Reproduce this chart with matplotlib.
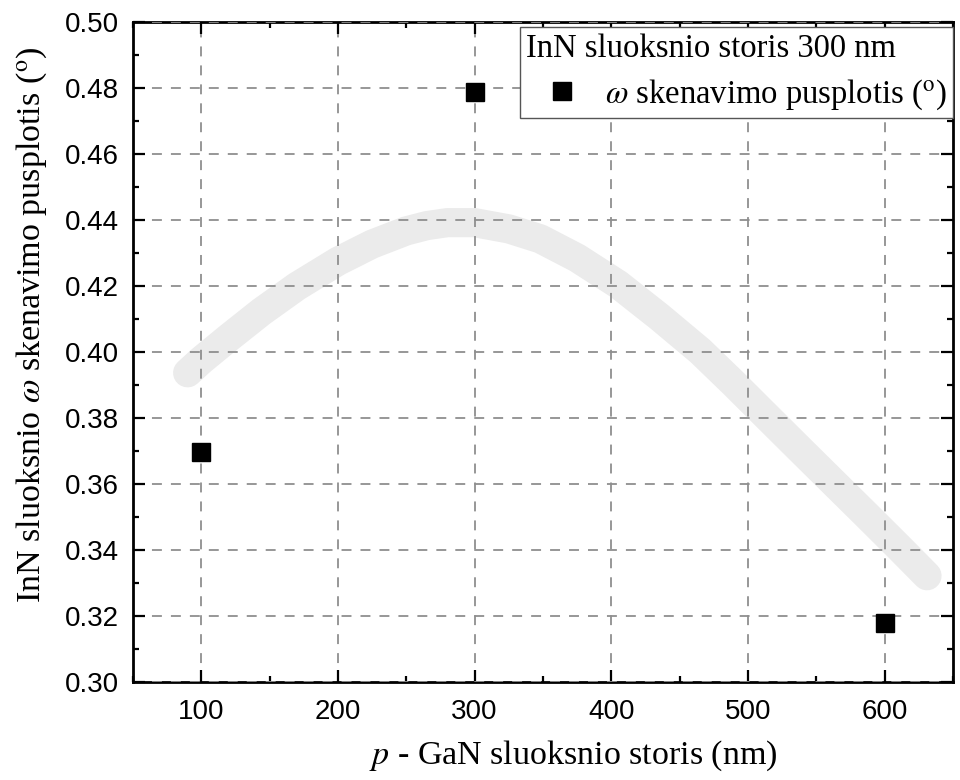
import matplotlib
matplotlib.use('Agg')
import matplotlib.pyplot as plt
from matplotlib.ticker import MultipleLocator, FormatStrFormatter

plt.rcParams['font.family'] = ['Liberation Serif', 'DejaVu Serif']
plt.rcParams['mathtext.fontset'] = 'stix'

# measured FWHM of the omega scan vs p-GaN thickness
thickness = [100, 300, 600]
fwhm = [0.3696, 0.4788, 0.318]

# hand-drawn trend guide
trend_x = [90, 100, 120, 144, 170, 200, 225, 250, 265, 280, 300, 325, 348,
           375, 405, 435, 465, 490, 513, 540, 562, 585, 610, 631]
trend_y = [0.3937, 0.3975, 0.4043, 0.4122, 0.4199, 0.4275, 0.4327, 0.4367,
           0.4383, 0.4392, 0.4392, 0.4373, 0.4343, 0.4285, 0.4205, 0.4107,
           0.4003, 0.3903, 0.3808, 0.3697, 0.3607, 0.3513, 0.3410, 0.3322]

fig = plt.figure(figsize=(9.6, 7.8), dpi=100)
ax = fig.add_axes([0.1385, 0.1256, 0.8542, 0.8462])

ax.plot(trend_x, trend_y, color='#ebebeb', lw=21, solid_capstyle='round',
        solid_joinstyle='round', zorder=1)
ax.plot(thickness, fwhm, 's', color='black', ms=12.5, zorder=4,
        label=r'$\omega$ skenavimo pusplotis ($^{\rm o}$)')

ax.set_xlim(50, 650)
ax.set_ylim(0.30, 0.50)
ax.set_xticks([100, 200, 300, 400, 500, 600])
ax.xaxis.set_minor_locator(MultipleLocator(50))
ax.yaxis.set_major_locator(MultipleLocator(0.02))
ax.yaxis.set_minor_locator(MultipleLocator(0.01))
ax.yaxis.set_major_formatter(FormatStrFormatter('%.2f'))

ax.set_axisbelow(False)
ax.grid(True, which='major', color='#8f8f8f', ls=(0, (5.5, 5)), lw=1.3, zorder=2)

for s in ax.spines.values():
    s.set_linewidth(2.0)
ax.tick_params(which='both', direction='in', top=True, right=True, width=1.6)
ax.tick_params(which='major', length=8.5)
ax.tick_params(which='minor', length=4.5)
for lbl in ax.get_xticklabels() + ax.get_yticklabels():
    lbl.set_family(['Liberation Sans', 'DejaVu Sans'])
    lbl.set_fontsize(20)
ax.tick_params(axis='x', pad=12)
ax.tick_params(axis='y', pad=10)

ax.set_xlabel(r'$p$ - GaN sluoksnio storis (nm)', fontsize=24.5)
ax.set_ylabel(r'InN sluoksnio $\omega$ skenavimo pusplotis ($^{\rm o}$)',
              fontsize=24.5)
ax.xaxis.set_label_coords(0.537, -0.085)
ax.yaxis.set_label_coords(-0.102, 0.541)

leg = ax.legend(loc='upper right', bbox_to_anchor=(1.0, 0.992),
                title='InN sluoksnio storis 300 nm', title_fontsize=23.5,
                fontsize=23.5, fancybox=False, framealpha=1, edgecolor='#555555',
                borderpad=0.2, handlelength=2.2, handletextpad=0.2,
                alignment='left', borderaxespad=0, labelspacing=0.4)
leg.get_frame().set_linewidth(1.0)
leg.set_zorder(5)

fig.savefig('out.png', dpi=100)
